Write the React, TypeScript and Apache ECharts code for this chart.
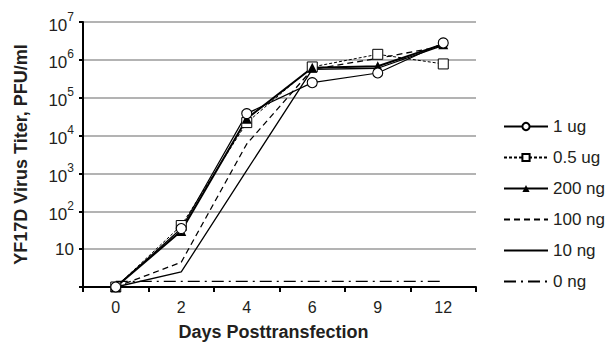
import React, { useEffect, useRef } from "react";
import * as echarts from "echarts";

const days = ["0", "2", "4", "6", "9", "12"];
const seriesNames = ["1 ug", "0.5 ug", "200 ng", "100 ng", "10 ng", "0 ng"];
const ug1 = [1, 35, 38000, 250000, 450000, 2800000];
const ug05 = [1, 42, 22000, 650000, 1400000, 780000];
const ng200 = [1, 30, 28000, 620000, 680000, 2600000];
const ng100 = [1, 4.5, 6000, 560000, 1100000, 2300000];
const ng10 = [1, 2.5, 1200, 560000, 600000, 2400000];
const ng0 = [1.4, 1.4, 1.4, 1.4, 1.4, 1.4];

const FONT = "'Liberation Sans', Arial, sans-serif";
const TXT = "#231f20";

export default function App() {
  const ref = useRef<HTMLDivElement>(null);
  useEffect(() => {
    if (!ref.current) return;
    const chart = echarts.init(ref.current, undefined, { renderer: "svg" });
    const base = { type: "line", z: 3 } as any;
    const noSym = { color: "rgba(0,0,0,0)", borderWidth: 0, opacity: 0 };
    chart.setOption({
      animation: false,
      backgroundColor: "#fff",
      textStyle: { fontFamily: FONT },
      grid: { left: 83, right: 130, top: 22, bottom: 58 },
      legend: {
        orient: "vertical",
        left: 498,
        top: 113,
        itemWidth: 44,
        itemHeight: 9,
        itemGap: 14,
        data: [
          { name: seriesNames[0] },
          { name: seriesNames[1] },
          { name: seriesNames[2] },
          { name: seriesNames[3], itemStyle: noSym },
          { name: seriesNames[4], itemStyle: noSym },
          { name: seriesNames[5], itemStyle: noSym },
        ],
        textStyle: { fontSize: 17, color: TXT, fontFamily: FONT, lineHeight: 17 },
      },
      xAxis: {
        type: "category",
        data: days,
        boundaryGap: true,
        name: "Days Posttransfection",
        nameLocation: "middle",
        nameGap: 36,
        nameTextStyle: { fontSize: 18, fontWeight: "bold", color: TXT, fontFamily: FONT, padding: [0, 12, 0, 0] },
        axisLine: { lineStyle: { color: "#000", width: 2 } },
        axisTick: { show: true, length: 5, inside: false, alignWithLabel: false, lineStyle: { color: "#000", width: 2 } },
        axisLabel: { fontSize: 16, color: TXT, margin: 12, fontFamily: FONT },
        splitLine: { show: false },
      },
      yAxis: {
        type: "log",
        logBase: 10,
        min: 1,
        max: 10000000,
        name: "YF17D Virus Titer, PFU/ml",
        nameLocation: "middle",
        nameGap: 53,
        nameRotate: 90,
        nameTextStyle: { fontSize: 18, fontWeight: "bold", color: TXT, fontFamily: FONT },
        axisLine: { show: true, lineStyle: { color: "#000", width: 2 } },
        axisTick: { show: true, length: 4, lineStyle: { color: "#000", width: 2 } },
        splitLine: { show: true, lineStyle: { color: "#9a9a9a", width: 1.5 } },
        axisLabel: {
          margin: 9,
          fontFamily: FONT,
          formatter: (v: number) => {
            if (v <= 1.0001) return "";
            const e = Math.round(Math.log10(v));
            if (e === 1) return "{p|10}";
            return "{b|10}{s|" + e + "}";
          },
          rich: {
            p: { fontSize: 17, color: TXT, fontFamily: FONT },
            b: { fontSize: 17, color: TXT, fontFamily: FONT, lineHeight: 23, verticalAlign: "bottom" },
            s: { fontSize: 12, color: TXT, fontFamily: FONT, lineHeight: 12, verticalAlign: "top" },
          },
        },
      },
      series: [
        {
          ...base,
          name: seriesNames[5],
          data: ng0,
          symbol: "none",
          lineStyle: { color: "#000", width: 1.3, type: [12, 5, 2, 5] },
          itemStyle: { color: "#000" },
          z: 2,
        },
        {
          ...base,
          name: seriesNames[4],
          data: ng10,
          symbol: "none",
          lineStyle: { color: "#000", width: 1.3, type: "solid" },
          itemStyle: { color: "#000" },
        },
        {
          ...base,
          name: seriesNames[3],
          data: ng100,
          symbol: "none",
          lineStyle: { color: "#000", width: 1.3, type: [6, 4] },
          itemStyle: { color: "#000" },
        },
        {
          ...base,
          name: seriesNames[1],
          data: ug05,
          symbol: "rect",
          symbolSize: 10,
          lineStyle: { color: "#000", width: 1, type: [3, 2] },
          itemStyle: { color: "#fff", borderColor: "#000", borderWidth: 1 },
        },
        {
          ...base,
          name: seriesNames[2],
          data: ng200,
          symbol: "triangle",
          symbolSize: 10,
          lineStyle: { color: "#000", width: 2 },
          itemStyle: { color: "#000", borderColor: "#000", borderWidth: 0 },
        },
        {
          ...base,
          name: seriesNames[0],
          data: ug1,
          symbol: "circle",
          symbolSize: 10,
          lineStyle: { color: "#000", width: 1.2 },
          itemStyle: { color: "#fff", borderColor: "#000", borderWidth: 1.1 },
        },
      ],
    });
    return () => chart.dispose();
  }, []);
  return <div ref={ref} style={{ width: 606, height: 346, position: "absolute", left: 0, top: 0 }} />;
}
